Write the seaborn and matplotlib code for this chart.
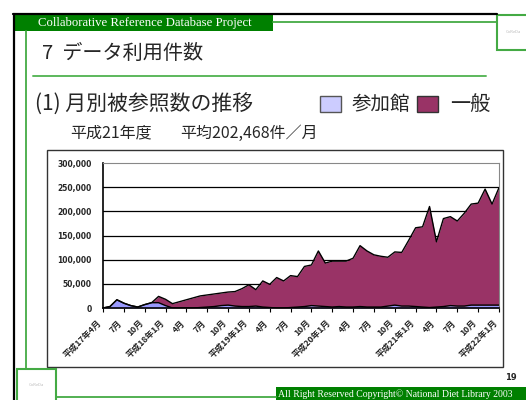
import numpy as np
import matplotlib
matplotlib.use("Agg")
import matplotlib.pyplot as plt
import matplotlib.patches as patches
import matplotlib.transforms as mtransforms
from matplotlib.lines import Line2D
import seaborn as sns

# monthly references, H17/4 .. H22/1 (thousands)
sanka = [0, 3, 17, 10, 5, 2, 7, 11, 11, 5,
         0, 0, 0, 0, 1, 2, 3, 5, 6, 4,
         3, 3, 4, 2, 1, 0, 0, 1, 2, 3,
         5, 4, 3, 2, 3, 2, 2, 3, 2, 2,
         2, 4, 6, 4, 4, 3, 2, 1, 2, 3,
         5, 4, 4, 6, 6, 6, 6, 6]
ippan = [0, 0, 0, 0, 0, 0, 0, 0, 13, 13,
         9, 13, 17, 21, 24, 25, 26, 26, 27, 30,
         37, 45, 34, 54, 48, 63, 56, 66, 63, 83,
         84, 114, 90, 95, 94, 95, 101, 126, 116, 108,
         105, 101, 110, 111, 136, 163, 166, 209, 135, 182,
         184, 176, 192, 209, 211, 240, 209, 243]
x_labels = ["平成17年4月", "7月", "10月", "平成18年1月", "4月", "7月", "10月",
            "平成19年1月", "4月", "7月", "10月", "平成20年1月", "4月", "7月", "10月",
            "平成21年1月", "4月", "7月", "10月", "平成22年1月"]
y_ticks = [0, 50000, 100000, 150000, 200000, 250000, 300000]

sns.set_style("white")
plt.rcParams['font.family'] = ['Noto Sans CJK JP', 'DejaVu Sans']

W, H = 526, 400
def fx(x):
    return x / W
def fy(y):
    return 1 - y / H

months = np.arange(len(sanka))
lower = np.array(sanka) * 1000
total = lower + np.array(ippan) * 1000

fig = plt.figure(figsize=(W / 100, H / 100), dpi=100)
fig.patch.set_facecolor("white")

def hline(x0, x1, y, color, lw):
    fig.add_artist(Line2D([fx(x0), fx(x1)], [fy(y), fy(y)], color=color, lw=lw))

def vline(x, y0, y1, color, lw):
    fig.add_artist(Line2D([fx(x), fx(x)], [fy(y0), fy(y1)], color=color, lw=lw))

def box(x0, y0, x1, y1, fc, ec, lw, z=1):
    r = patches.Rectangle((fx(x0), fy(y1)), (x1 - x0) / W, (y1 - y0) / H,
                          transform=fig.transFigure, facecolor=fc, edgecolor=ec, lw=lw, zorder=z)
    fig.add_artist(r)

green = "#44aa44"
dark_green = "#008000"

# slide frame
hline(13, 497, 14, "black", 1.6)
vline(14, 14, 400, "black", 1.6)
box(13, 14, 273, 31, dark_green, dark_green, 0)
fig.text(fx(38), fy(23), "Collaborative Reference Database Project", color="white",
         family="Liberation Serif", fontsize=9.2, va="center")
hline(273, 497, 22, green, 1.3)
box(497, 15, 530, 50, "white", green, 1.5)
vline(26, 31, 369, green, 1.3)
box(17, 369, 56, 403, "white", green, 1.5)
fig.text(fx(36), fy(385), "CoReDa", color="#bbbbbb", fontsize=3, ha="center", va="center")
fig.text(fx(513), fy(32), "CoReDa", color="#bbbbbb", fontsize=3, ha="center", va="center")
hline(56, 276, 397, green, 1.3)
box(276, 387, 530, 403, dark_green, dark_green, 0)
fig.text(fx(278), fy(394), "All Right Reserved Copyright\u00a9 National Diet Library 2003",
         color="white", family="Liberation Serif", fontsize=7.0, va="center")
fig.text(fx(505), fy(378), "19", fontsize=6, fontweight="bold", va="center", family="DejaVu Sans")

# titles
fig.text(fx(42), fy(53), "7  データ利用件数", fontsize=14.5, va="center")
hline(33, 486, 76, "#5cb85c", 1.4)
fig.text(fx(35), fy(105), "(1) 月別被参照数の推移", fontsize=15, va="center")
box(320, 96, 341, 112, "#ccccff", "#555555", 1.0)
fig.text(fx(352), fy(104), "参加館", fontsize=14, va="center")
box(417, 96, 438, 112, "#993366", "#333333", 1.0)
fig.text(fx(450), fy(104), "一般", fontsize=14.5, va="center")
fig.text(fx(70), fy(133), "平成21年度", fontsize=11.5, va="center")
fig.text(fx(180), fy(133), "平均202,468件／月", fontsize=11.5, va="center")

# chart box
box(47, 150, 503, 367, "white", "#333333", 1.0, z=0.5)

ax = fig.add_axes([fx(103), fy(308), 396 / W, 145 / H])
ax.set_zorder(2)
ax.set_facecolor("white")

ax.fill_between(months, 0, lower, color="#9999ff", lw=0, zorder=2)
ax.fill_between(months, lower, total, color="#993366", lw=0, zorder=2)
sns.lineplot(x=months, y=lower, color="black", lw=1, ax=ax, zorder=3, legend=False)
sns.lineplot(x=months, y=total, color="black", lw=1, ax=ax, zorder=3, legend=False)

ax.set_xlim(0, len(sanka) - 1)
ax.set_ylim(0, 300000)
ax.set_yticks(y_ticks)
ax.set_yticklabels([f"{v:,}" for v in y_ticks], fontsize=5.5, fontweight="bold", family="DejaVu Sans")
ax.tick_params(axis="y", length=0, pad=8)
for v in y_ticks[1:-1]:
    ax.axhline(v, color="black", lw=0.9, zorder=1)

ax.set_xticks(months[::3])
ax.set_xticklabels(x_labels, fontsize=6.2, fontweight="bold")
ax.tick_params(axis="x", length=3, width=0.8, pad=3, bottom=True, color="black")
shift = mtransforms.ScaledTranslation(-0.06, -0.02, fig.dpi_scale_trans)
for lab in ax.get_xticklabels():
    lab.set_rotation(45)
    lab.set_ha("right")
    lab.set_rotation_mode("anchor")
    lab.set_transform(lab.get_transform() + shift)

ax.spines["left"].set_color("black")
ax.spines["bottom"].set_color("black")
ax.spines["left"].set_linewidth(1.2)
ax.spines["bottom"].set_linewidth(1.2)
ax.spines["top"].set_color("#888888")
ax.spines["right"].set_color("#888888")
ax.set_xlabel("")
ax.set_ylabel("")

fig.savefig("out.png", dpi=100)
